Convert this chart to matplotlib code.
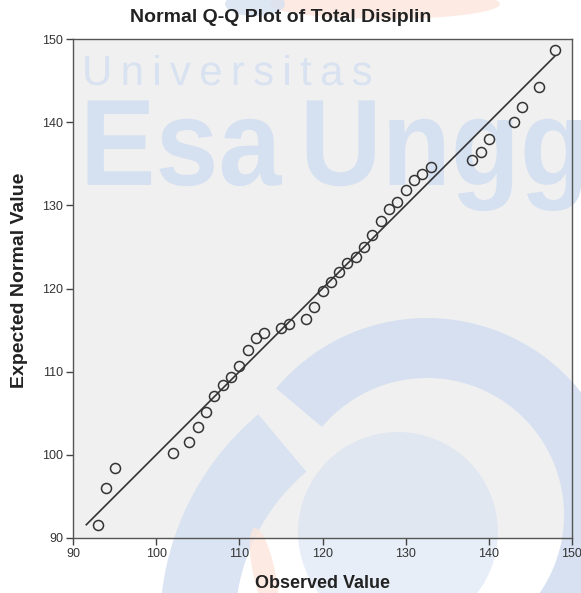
import matplotlib
matplotlib.use('Agg')
import matplotlib.pyplot as plt
import matplotlib.transforms as mtransforms
from matplotlib.patches import Wedge, Circle, Ellipse, PathPatch
from matplotlib.textpath import TextPath, text_to_path
from matplotlib.font_manager import FontProperties

# ── data ─────────────────────────────────────────────────────────────────────
observed = [93, 94, 95, 102, 104, 105, 106, 107, 108, 109, 110, 111, 112, 113,
            115, 116, 118, 119, 120, 121, 122, 123, 124, 125, 126, 127, 128,
            129, 130, 131, 132, 133, 138, 139, 140, 143, 144, 146, 148]
expected = [91.6, 96.0, 98.4, 100.2, 101.6, 103.3, 105.2, 107.1, 108.4, 109.3,
            110.7, 112.6, 114.0, 114.6, 115.3, 115.7, 116.3, 117.8, 119.7,
            120.8, 122.0, 123.1, 123.8, 125.0, 126.4, 128.1, 129.5, 130.4,
            131.8, 133.0, 133.8, 134.6, 135.4, 136.4, 138.0, 140.0, 141.8,
            144.2, 148.7]
line_x = [91.6, 147.9]
ticks = [90, 100, 110, 120, 130, 140, 150]

plt.rcParams['font.family'] = ['Liberation Sans', 'DejaVu Sans']

W, H = 581, 593
fig = plt.figure(figsize=(W / 100, H / 100), dpi=100)
fig.patch.set_facecolor('white')
ax = fig.add_axes([73 / W, 1 - 538 / H, (572 - 73) / W, (538 - 39) / H])
ax.set_facecolor('#f0f0f0')

# pixel coords measured from the top-left of the image
px = mtransforms.Affine2D().scale(1 / 100, -1 / 100).translate(0, H / 100) + fig.dpi_scale_trans

# ── watermark ────────────────────────────────────────────────────────────────
wm = '#d5e0f1'
kw = dict(transform=px, lw=0, zorder=0.5, clip_on=False)

fp = FontProperties(family='Liberation Sans')
word = 'Universitas'
scale = 42 / fp.get_size_in_points()
for i, ch in enumerate(word):
    adv = text_to_path.get_text_width_height_descent(word[:i], fp, ismath=False)[0] * scale if i else 0
    tp = TextPath((0, 0), ch, size=42, prop=fp)
    tr = mtransforms.Affine2D().scale(1.0, -1.0).translate(82 + adv + i * 8.3, 85)
    ax.add_patch(PathPatch(tr.transform_path(tp), color=wm, alpha=0.85, **kw))

fpb = FontProperties(family='Liberation Sans', weight='bold')
for word, x0 in [('Esa', 80), ('Ungg', 300)]:
    tp = TextPath((0, 0), word, size=123, prop=fpb)
    tr = mtransforms.Affine2D().scale(0.92, -1.0).translate(x0, 185)
    ax.add_patch(PathPatch(tr.transform_path(tp), color=wm, **kw))

# logo swooshes (angles flipped because y runs downward)
ax.add_patch(Wedge((427, 515), 197, -140, 90, width=60, color=wm, alpha=0.95, **kw))
ax.add_patch(Wedge((435, 625), 275, 180, 230, width=75, color=wm, alpha=0.85, **kw))
ax.add_patch(Circle((398, 532), 100, color=wm, alpha=0.55, **kw))
ax.add_patch(Ellipse((385, 4), 230, 30, color='#fde6dc', alpha=0.8, **kw))
ax.add_patch(Ellipse((255, 4), 60, 24, color=wm, alpha=0.8, **kw))
ax.add_patch(Ellipse((264, 572), 22, 90, angle=-12, color='#fde6dc', alpha=0.8, **kw))

# ── data ─────────────────────────────────────────────────────────────────────
ax.plot(line_x, line_x, color='#333333', lw=1.2, zorder=2)
ax.plot(observed, expected, 'o', ms=7.2, mfc='none', mec='#333333', mew=1.1,
        zorder=3)

ax.set_xlim(90, 150)
ax.set_ylim(90, 150)
ax.set_xticks(ticks)
ax.set_yticks(ticks)
ax.tick_params(direction='out', length=5, width=1, color='#444444',
               labelsize=9, labelcolor='#333333', pad=2)
for s in ax.spines.values():
    s.set_color('#555555')
    s.set_linewidth(1.0)

fig.text(281 / W, 1 - 18 / H, 'Normal Q-Q Plot of Total Disiplin', fontsize=14,
         fontweight='bold', color='#222222', ha='center', va='center')
ax.set_xlabel('Observed Value', fontsize=13, fontweight='bold', color='#222222')
ax.set_ylabel('Expected Normal Value', fontsize=14, fontweight='bold', color='#222222')
ax.xaxis.set_label_coords(0.5, -(584 - 538) / 499)
ax.xaxis.label.set_va('center')
ax.yaxis.set_label_coords((20 - 73) / 499, (538 - 280) / 499)
ax.yaxis.label.set_va('center')

fig.savefig('out.png', dpi=100)
